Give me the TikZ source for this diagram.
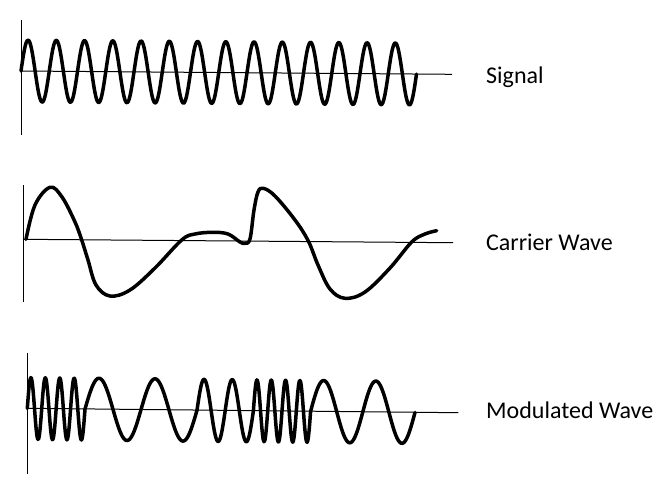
\documentclass[tikz,border=0pt]{standalone}
\usepackage{fontspec}
\setmainfont{Carlito}
\begin{document}
\begin{tikzpicture}[x=1pt,y=-1pt,
  axis/.style={line width=1pt,black},
  wave/.style={line width=3.5pt,black,line join=round,line cap=round},
  lbl/.style={anchor=base west,inner sep=0pt,font=\fontsize{24}{28}\selectfont}]
\useasboundingbox (0,0) rectangle (672,488);
% ---------- Signal ----------
\draw[axis] (21,20) -- (21,135);
\draw[axis] (21,71) -- (452,74.3);
\draw[wave] plot[domain=21:416.5,samples=400,smooth] (\x,{71+(\x-21)*0.00766-31*sin((\x-21)*12.743)});
\node[lbl] (sig) at (486,83) {Signal};
% ---------- Carrier ----------
\draw[axis] (23.3,185) -- (23.3,302);
\draw[axis] (23,239.3) -- (453,242.7);
\draw[wave] plot[smooth,tension=0.6] coordinates {
 (26,239.3) (35,205) (50,187.3) (62,197) (75,222) (81.7,240) (88,260) (96,285)
 (110,296) (130,290) (155,268) (181.7,240) (195,234) (213,232.3) (228,234)
 (240,242) (245,243.3) (250,239) (254,210) (258,192) (263.3,188.3) (275,196)
 (295,220) (308.3,241) (318,265) (330,289) (345,298.3) (365,292) (390,268)
 (411.7,242) (425,234) (436.7,230.7)};
\node[lbl] (car) at (486,250) {Carrier Wave};
% ---------- Modulated ----------
\draw[axis] (27.3,353) -- (27.3,473.5);
\draw[axis] (27,408.3) -- (458.3,412.7);
\draw[wave]
  plot[domain=27.3:85,samples=100,smooth] (\x,{408.5+(\x-27)*0.0102-31*sin((\x-27.3)*24.957)})
  -- plot[domain=85:197,samples=100,smooth] (\x,{408.5+(\x-27)*0.0102-31*sin((\x-85)*6.4286)})
  -- plot[domain=197:253.4,samples=100,smooth] (\x,{408.5+(\x-27)*0.0102-31*sin((\x-197)*12.766)})
  -- plot[domain=253.4:310.6,samples=100,smooth] (\x,{408.5+(\x-27)*0.0102-31*sin((\x-253.4)*25.175)})
  -- plot[domain=310.6:415,samples=100,smooth] (\x,{408.5+(\x-27)*0.0102-31*sin((\x-310.6)*6.8966)});
\node[lbl] (mod) at (486,418.5) {Modulated Wave};
\end{tikzpicture}
\end{document}
